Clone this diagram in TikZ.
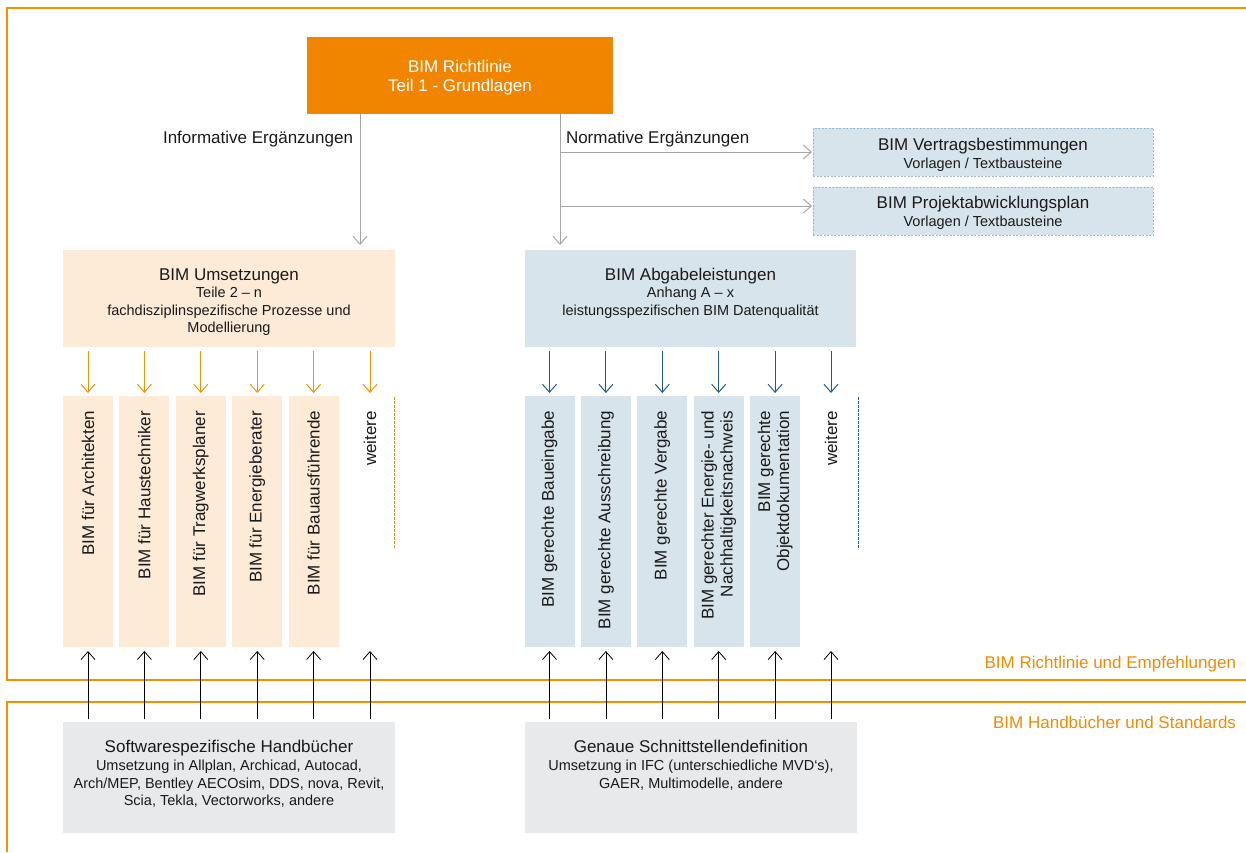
\documentclass[tikz,border=0pt]{standalone}
\usepackage{fontspec}
\setmainfont{Liberation Sans}
\usetikzlibrary{arrows.meta,calc}
\definecolor{orangeD}{HTML}{F28500}
\definecolor{frameO}{HTML}{F39200}
\definecolor{lightO}{HTML}{FDEBD7}
\definecolor{lightB}{HTML}{D8E4EC}
\definecolor{grayB}{HTML}{E8E9EB}
\definecolor{darkB}{HTML}{1F5C8E}
\definecolor{arrowG}{HTML}{A6A6A6}
\definecolor{dashB}{HTML}{9DB8CC}
\definecolor{txt}{HTML}{1A1A1A}
\definecolor{otxt}{HTML}{F08A00}
\newcommand\fbig{\fontsize{17}{19}\selectfont}
\newcommand\fsm{\fontsize{14.5}{17.5}\selectfont}
\tikzset{
  every node/.style={inner sep=0pt, outer sep=0pt, text=txt},
  vboxo/.style={fill=lightO, minimum width=50pt, minimum height=251pt},
  vboxb/.style={fill=lightB, minimum width=50pt, minimum height=251pt},
  vlab/.style={rotate=90, anchor=east, font=\fbig, align=right},
  mtext/.style={anchor=north, align=center, font=\fsm},
  dbox/.style={fill=lightB, draw=dashB, dash pattern=on 2pt off 1.5pt, line width=0.6pt, minimum width=340pt, minimum height=48pt},
  tip/.style={-{Straight Barb[length=8pt,width=14pt]}},
  oarrow/.style={tip, draw=frameO, line width=1pt, shorten <=4pt, shorten >=3pt},
  barrow/.style={tip, draw=darkB, line width=1pt, shorten <=4pt, shorten >=3pt},
  karrow/.style={tip, draw=black, line width=0.8pt, shorten <=3pt, shorten >=4pt},
  garrow/.style={tip, draw=arrowG, line width=1pt},
  frameline/.style={draw=frameO, line width=1.3pt},
}
\begin{document}
\begin{tikzpicture}[x=1pt,y=-1pt]
\useasboundingbox (0,0) rectangle (1246,852);
% frames
\draw[frameline] (1246,8) -- (7,8) -- (7,680) -- (1246,680);
\draw[frameline] (1246,702) -- (7,702) -- (7,852);
\node[anchor=base east, font=\fbig, text=otxt] (lab1) at (1236,668) {BIM Richtlinie und Empfehlungen};
\node[anchor=base east, font=\fbig, text=otxt] (lab2) at (1236,728) {BIM Handbücher und Standards};

% top box
\node[fill=orangeD, minimum width=306pt, minimum height=77pt] (top) at (460,75.5) {};
\node[anchor=north, align=center, font=\fbig, text=white] (toptext) at (460,60.3) {BIM Richtlinie\\Teil 1 - Grundlagen};

% dashed boxes
\node[dbox] (vertrag) at (983,152) {};
\node[mtext] (vertragtext) at (983,137.8) {{\fbig BIM Vertragsbestimmungen}\\[0.5pt]Vorlagen / Textbausteine};
\node[dbox] (pap) at (983,211) {};
\node[mtext] (paptext) at (983,196.1) {{\fbig BIM Projektabwicklungsplan}\\[0.5pt]Vorlagen / Textbausteine};

% main boxes
\node[fill=lightO, minimum width=332pt, minimum height=97pt] (umsetz) at (229,298.5) {};
\node[mtext] (umsetztext) at (229,268.5) {{\fbig BIM Umsetzungen}\\Teile 2 – n\\fachdisziplinspezifische Prozesse und\\Modellierung};
\node[fill=lightB, minimum width=331pt, minimum height=97pt] (abgabe) at (690.5,298.5) {};
\node[mtext] (abgabetext) at (690.5,268) {{\fbig BIM Abgabeleistungen}\\Anhang A – x\\leistungsspezifischen BIM Datenqualität};

% connectors from top
\coordinate (infx) at (360,0);
\coordinate (normx) at (560,0);
\draw[garrow, shorten >=5pt] (top.south -| infx) -- (umsetz.north -| infx);
\draw[garrow, shorten >=5pt] (top.south -| normx) -- (abgabe.north -| normx);
\coordinate (b1) at (560,152);
\coordinate (b2) at (560,206);
\draw[garrow, shorten >=1pt] (b1) -- (vertrag.west |- b1);
\draw[garrow, shorten >=1pt] (b2) -- (pap.west |- b2);
\node[anchor=base east, font=\fbig] (inflab) at (353,143.3) {Informative Ergänzungen};
\node[anchor=base west, font=\fbig] (normlab) at (566,143.3) {Normative Ergänzungen};

% vertical boxes left
\foreach \i/\t in {1/BIM für Architekten,2/BIM für Haustechniker,3/BIM für Tragwerksplaner,4/BIM für Energieberater,5/BIM für Bauausführende}{
  \node[vboxo] (L\i) at ({88+56.4*(\i-1)},521.5) {};
  \node[vlab] (L\i t) at ({88+56.4*(\i-1)},411) {\t};
}
\coordinate (L6) at (370,521.5);
\node[vlab] (L6t) at (370,411) {weitere};
\draw[frameO, line width=0.8pt, dash pattern=on 2.5pt off 1.5pt] (394,397) -- (394,548);

% vertical boxes right
\foreach \i/\t in {1/BIM gerechte Baueingabe,2/BIM gerechte Ausschreibung,3/BIM gerechte Vergabe,4/{BIM gerechter Energie- und\\Nachhaltigkeitsnachweis},5/{BIM gerechte\\Objektdokumentation}}{
  \node[vboxb] (R\i) at ({549.5+56.4*(\i-1)},521.5) {};
  \node[vlab] (R\i t) at ({549.5+56.4*(\i-1)},411) {\t};
}
\coordinate (R6) at (831,521.5);
\node[vlab] (R6t) at (831,411) {weitere};
\draw[darkB, line width=0.8pt, dash pattern=on 2.5pt off 1.5pt] (858,397) -- (858,548);

% bottom boxes
\node[fill=grayB, minimum width=332pt, minimum height=111pt] (soft) at (229,777.5) {};
\node[mtext] (softtext) at (229,740.3) {{\fbig Softwarespezifische Handbücher}\\[0.5pt]Umsetzung in Allplan, Archicad, Autocad,\\Arch/MEP, Bentley AECOsim, DDS, nova, Revit,\\Scia, Tekla, Vectorworks, andere};
\node[fill=grayB, minimum width=332pt, minimum height=111pt] (schnitt) at (691,777.5) {};
\node[mtext] (schnitttext) at (691,740.3) {{\fbig Genaue Schnittstellendefinition}\\[0.5pt]Umsetzung in IFC (unterschiedliche MVD‘s),\\GAER, Multimodelle, andere};

% arrows
\foreach \i in {1,...,5}{
  \draw[oarrow] (umsetz.south -| L\i.north) -- (L\i.north);
  \draw[karrow] (soft.north -| L\i.south) -- (L\i.south);
  \draw[barrow] (abgabe.south -| R\i.north) -- (R\i.north);
  \draw[karrow] (schnitt.north -| R\i.south) -- (R\i.south);
}
\draw[oarrow] (umsetz.south -| L6) -- (L6 |- L1.north);
\draw[karrow] (soft.north -| L6) -- (L6 |- L1.south);
\draw[barrow] (abgabe.south -| R6) -- (R6 |- R1.north);
\draw[karrow] (schnitt.north -| R6) -- (R6 |- R1.south);
\end{tikzpicture}
\end{document}
